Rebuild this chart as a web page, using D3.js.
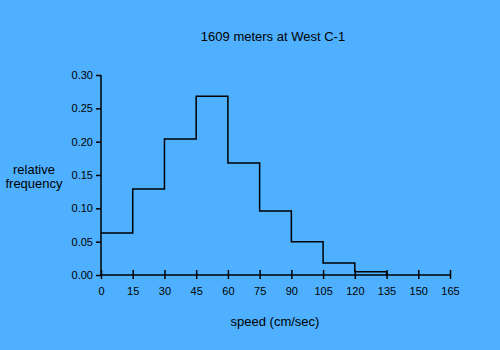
<!DOCTYPE html>
<html><head><meta charset="utf-8">
<script src="https://cdn.jsdelivr.net/npm/d3@7"></script>
<style>
html,body{margin:0;padding:0;background:#4fb0ff;}
svg{display:block;}
text{font-family:"Liberation Sans",Arial,sans-serif;fill:#000;}
</style></head>
<body><svg id="c" width="500" height="350"></svg>
<script>
const binStarts = [0, 15, 30, 45, 60, 75, 90, 105, 120];
const binWidth = 15;
const frequencies = [0.063, 0.129, 0.204, 0.268, 0.168, 0.096, 0.050, 0.018, 0.005];
const xTicks = [0, 15, 30, 45, 60, 75, 90, 105, 120, 135, 150, 165];
const yTicks = [0, 0.05, 0.10, 0.15, 0.20, 0.25, 0.30];
const title = "1609 meters at West C-1";
const xLabel = "speed (cm/sec)";
const yLabel = ["relative", "frequency"];

const svg = d3.select("#c");
svg.append("rect").attr("width",500).attr("height",350).attr("fill","#4fb0ff");
const x = d3.scaleLinear().domain([0,165]).range([101,450]);
const y = d3.scaleLinear().domain([0,0.30]).range([275,75]);

// y axis
const ya = svg.append("g").attr("transform","translate(101,0)")
  .call(d3.axisLeft(y).tickValues(yTicks).tickFormat(d3.format(".2f")).tickSize(5).tickPadding(3));
ya.select(".domain").attr("stroke","#000").attr("stroke-width",1.5).attr("d","M0,"+y(0.30)+"V"+y(0));
ya.selectAll(".tick line").attr("stroke","#000").attr("stroke-width",1.5);
ya.selectAll("text").attr("font-size","11px").attr("font-family","Liberation Sans, Arial, sans-serif");

// x axis
const xa = svg.append("g").attr("transform","translate(0,275)")
  .call(d3.axisBottom(x).tickValues(xTicks).tickSize(0).tickPadding(12));
xa.select(".domain").attr("stroke","#000").attr("stroke-width",1.5).attr("d","M"+x(0)+",0H"+x(165));
xa.selectAll(".tick line").attr("stroke","#000").attr("stroke-width",1.5).attr("y1",-5).attr("y2",4);
xa.selectAll("text").attr("font-size","11px").attr("font-family","Liberation Sans, Arial, sans-serif");

// step outline
const pts = [];
binStarts.forEach((s,i)=>{
  pts.push([x(s), y(frequencies[i])]);
  pts.push([x(s+binWidth), y(frequencies[i])]);
});
const last = binStarts[binStarts.length-1]+binWidth;
pts.push([x(last), y(0)]);
svg.append("path").attr("d", d3.line()(pts)).attr("fill","none").attr("stroke","#000").attr("stroke-width",1.5);

svg.append("text").attr("x",273).attr("y",41).attr("text-anchor","middle").attr("font-size","13px").text(title);
svg.append("text").attr("x",275).attr("y",326).attr("text-anchor","middle").attr("font-size","13px").text(xLabel);
svg.append("text").attr("x",34).attr("y",174).attr("text-anchor","middle").attr("font-size","13px").text(yLabel[0]);
svg.append("text").attr("x",34).attr("y",188).attr("text-anchor","middle").attr("font-size","13px").text(yLabel[1]);
</script></body></html>
